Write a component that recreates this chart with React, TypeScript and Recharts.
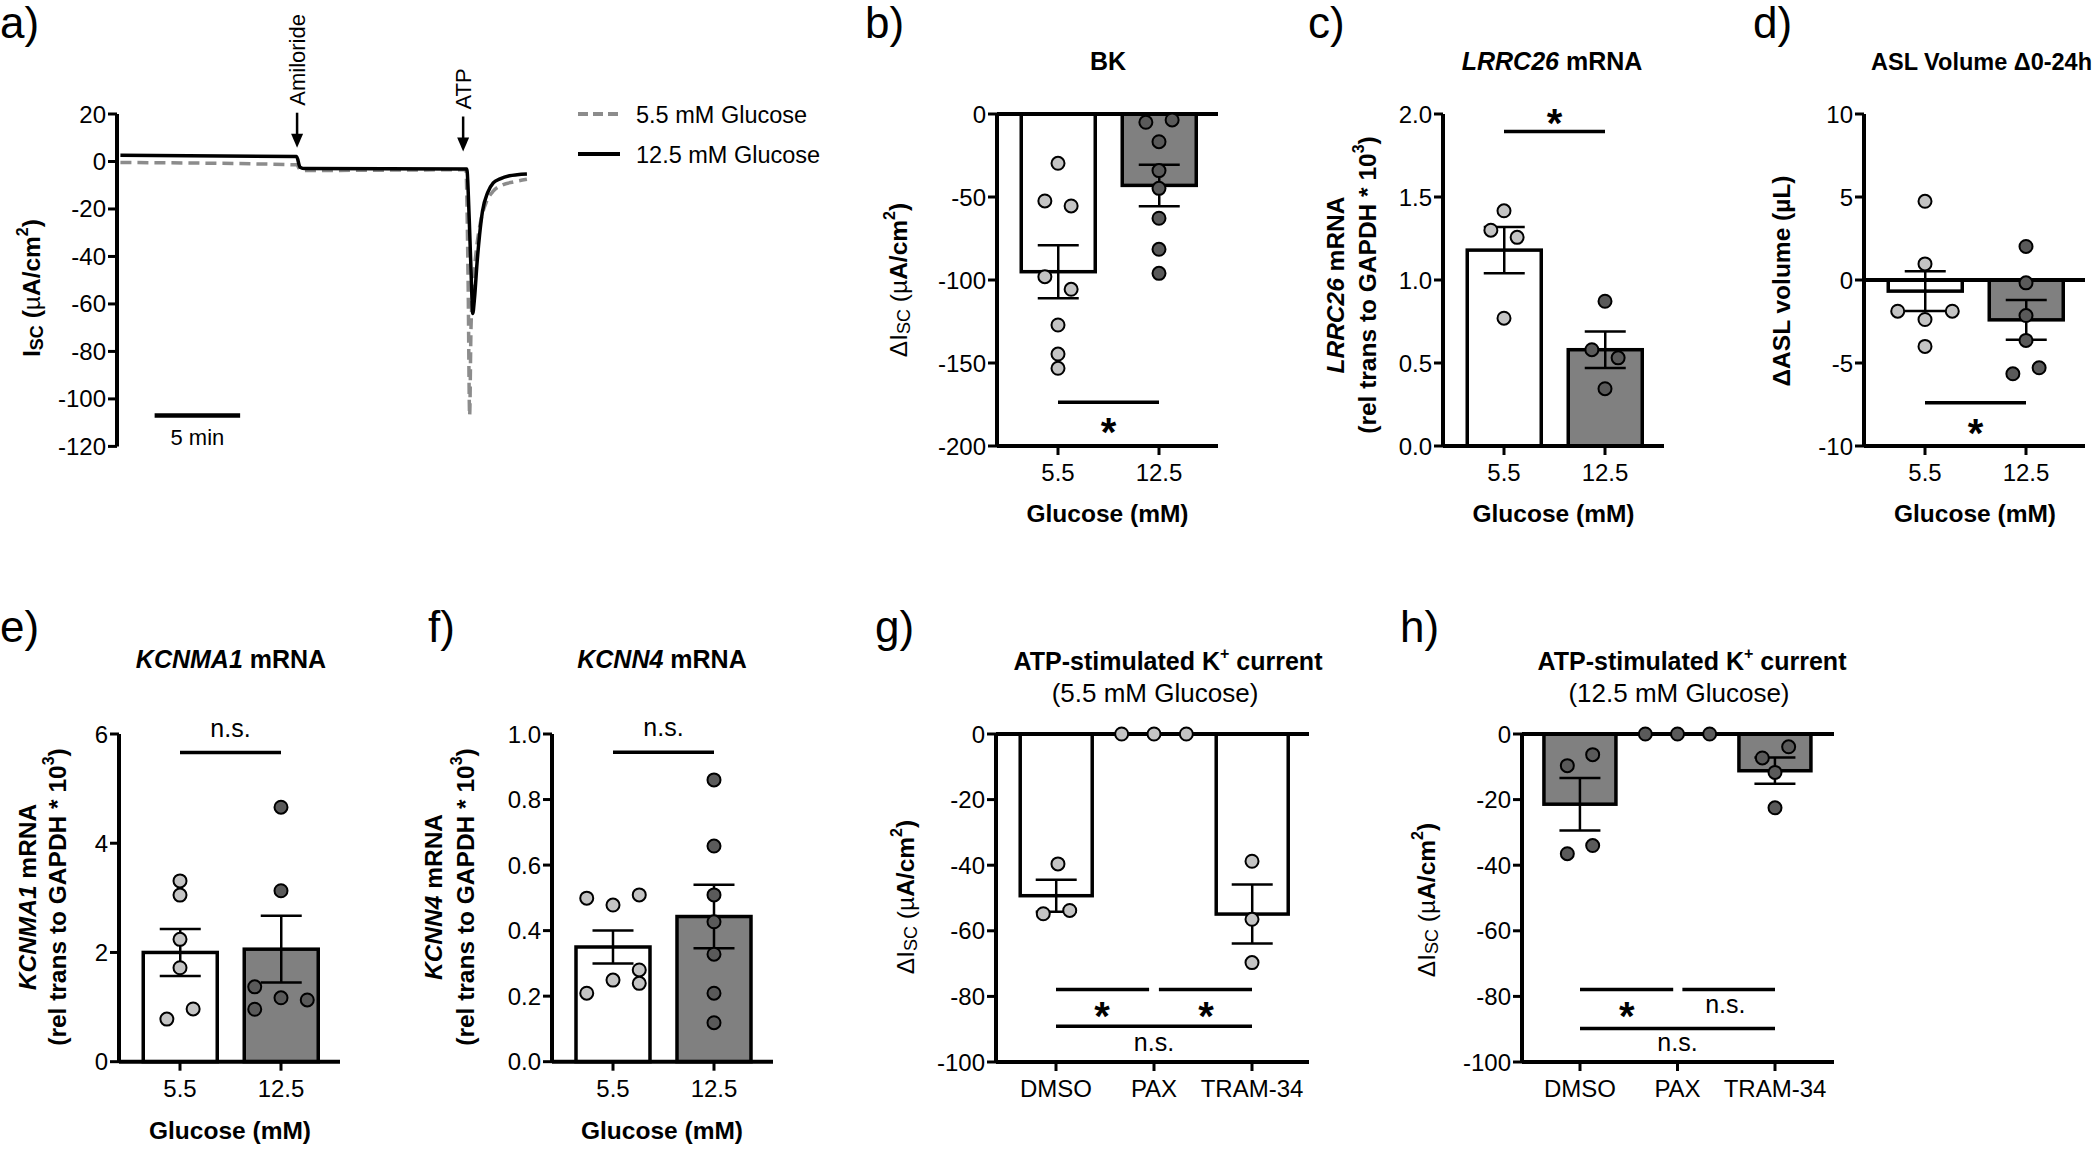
import React from "react";
import {
  ComposedChart,
  LineChart,
  Line,
  Bar,
  Cell,
  ErrorBar,
  Scatter,
  XAxis,
  YAxis,
  ReferenceLine,
  ReferenceDot,
} from "recharts";

const FONT = "'Liberation Sans', Arial, Helvetica, sans-serif";
const LIGHT = "#c4c4c4";
const DARK = "#5a5a5a";
const BAR_GRAY = "#808080";
const TRACE_GRAY = "#8c8c8c";

// ---------- a) short-circuit current trace ----------
const traceTime55 = [0, 10.3, 10.5, 10.8, 20.2, 20.33, 20.42, 20.5, 20.65, 20.85, 21.1, 21.4, 21.8, 22.3, 23.0, 23.77];
const traceIsc55 = [-0.4, -1.4, -3.3, -3.8, -3.5, -50, -107, -70, -50, -35, -24, -17, -12.5, -10, -8.6, -7.5];
const traceTime125 = [0, 10.3, 10.5, 10.8, 20.25, 20.4, 20.52, 20.6, 20.7, 20.85, 21.0, 21.17, 21.48, 21.8, 22.2, 22.75, 23.2, 23.77];
const traceIsc125 = [2.6, 2.1, -2.4, -3.0, -3.2, -25, -50, -64, -58, -43, -31, -21, -13, -9, -7.3, -6, -5.6, -5.3];
const traceTicks = [20, 0, -20, -40, -60, -80, -100, -120];
const additionNames = ["Amiloride", "ATP"];
const additionTimes = [10.33, 20.04];
const additionTips = [5.8, 4.2];
const legendNames = ["5.5 mM Glucose", "12.5 mM Glucose"];

// ---------- shared categories ----------
const glucose = ["5.5", "12.5"];
const drugs = ["DMSO", "PAX", "TRAM-34"];

// ---------- b) BK ----------
const bkMean = [-95, -43];
const bkSem = [16, 12.5];
const bkPts55 = [[0, -29.7], [-0.13, -52.4], [0.13, -55.4], [-0.13, -98], [0.13, -105.6], [0, -127.1], [0, -144.6], [0, -153.2]];
const bkPts125 = [[-0.13, -5.0], [0.13, -3.6], [0, -16.7], [0, -34.1], [0, -44.8], [0, -62.8], [0, -81.5], [0, -96]];
const bkTicks = [0, -50, -100, -150, -200];

// ---------- c) LRRC26 ----------
const lrrcMean = [1.18, 0.58];
const lrrcSem = [0.14, 0.11];
const lrrcPts55 = [[0, 1.417], [-0.13, 1.3], [0.13, 1.257], [0, 0.77]];
const lrrcPts125 = [[0, 0.872], [-0.13, 0.58], [0.13, 0.531], [0, 0.345]];
const lrrcTicks = [0, 0.5, 1, 1.5, 2];

// ---------- d) ASL volume ----------
const aslMean = [-0.67, -2.4];
const aslSem = [1.2, 1.2];
const aslPts55 = [[0, 4.74], [0, 0.97], [-0.27, -1.88], [0.27, -1.88], [0, -2.38], [0, -4.0]];
const aslPts125 = [[0, 2.02], [0, -0.17], [0, -2.14], [0, -3.64], [-0.13, -5.65], [0.13, -5.29]];
const aslTicks = [-10, -5, 0, 5, 10];

// ---------- e) KCNMA1 ----------
const kcnma1Mean = [2.0, 2.06];
const kcnma1Sem = [0.43, 0.61];
const kcnma1Pts55 = [[0, 3.31], [0, 3.05], [0, 2.24], [0, 1.72], [0.13, 0.965], [-0.13, 0.78]];
const kcnma1Pts125 = [[0, 4.66], [0, 3.13], [-0.26, 1.37], [-0.26, 0.96], [0, 1.17], [0.26, 1.13]];
const kcnma1Ticks = [0, 2, 4, 6];

// ---------- f) KCNN4 ----------
const kcnn4Mean = [0.35, 0.443];
const kcnn4Sem = [0.05, 0.097];
const kcnn4Pts55 = [[-0.26, 0.499], [0, 0.478], [0.26, 0.509], [0.26, 0.28], [0, 0.249], [0.26, 0.239], [-0.26, 0.209]];
const kcnn4Pts125 = [[0, 0.86], [0, 0.658], [0, 0.509], [0, 0.427], [0, 0.328], [0, 0.209], [0, 0.119]];
const kcnn4Ticks = [0, 0.2, 0.4, 0.6, 0.8, 1.0];

// ---------- g) ATP K+ current, 5.5 mM ----------
const atp55Mean = [-49.3, 0, -54.9];
const atp55Sem = [4.9, 0, 9];
const atp55Dmso = [[0.02, -39.6], [-0.13, -54.8], [0.14, -53.8]];
const atp55Pax = [[-0.33, 0], [0, 0], [0.33, 0]];
const atp55Tram = [[0, -38.8], [0, -56.5], [0, -69.7]];

// ---------- h) ATP K+ current, 12.5 mM ----------
const atp125Mean = [-21.4, 0, -11.2];
const atp125Sem = [8, 0, 4];
const atp125Dmso = [[-0.13, -9.65], [0.13, -6.3], [0.13, -34], [-0.13, -36.5]];
const atp125Pax = [[-0.33, 0], [0, 0], [0.33, 0]];
const atp125Tram = [[0.14, -3.9], [-0.13, -7.3], [0, -11.7], [0, -22.5]];
const atpTicks = [0, -20, -40, -60, -80, -100];

// significance bars: [from, to, y] and labels: [x, y, text]
const bkSigLines = [[1, 2, -173.7]];
const bkSigText = [[1.5, -186, "*"]];
const lrrcSigLines = [[1, 2, 1.894]];
const lrrcSigText = [[1.5, 2.0, "*"]];
const aslSigLines = [[1, 2, -7.39]];
const aslSigText = [[1.5, -8.66, "*"]];
const kcnma1SigLines = [[1, 2, 5.66]];
const kcnma1SigText = [[1.5, 6.07, "n.s."]];
const kcnn4SigLines = [[1, 2, 0.944]];
const kcnn4SigText = [[1.5, 1.013, "n.s."]];
const atp55SigLines = [[1, 1.95, -77.9], [2.05, 3, -77.9], [1, 3, -89.1]];
const atp55SigText = [[1.47, -83.2, "*"], [2.53, -83.2, "*"], [2, -94.8, "n.s."]];
const atp125SigLines = [[1, 1.956, -77.9], [2.05, 3, -77.9], [1, 3, -89.8]];
const atp125SigText = [[1.48, -83.2, "*"], [2.49, -83.2, "n.s."], [2, -94.8, "n.s."]];

const AXIS = { stroke: "#000", strokeWidth: 4 };
const TICK = { stroke: "#000", strokeWidth: 3 };
const TICK_TEXT = { fill: "#000", fontSize: 24, fontFamily: FONT };

const dotShape = (fill: string) => (props: any) => (
  <circle cx={props.cx} cy={props.cy} r={6.5} fill={fill} stroke="#000" strokeWidth={2} />
);

// fixed-width bar centred on the slot recharts gives us
const barShape = (w: number) => (props: any) => {
  const { x, y, width, height, fill } = props;
  if (!height) return <g />;
  const top = Math.min(y, y + height);
  return (
    <rect
      x={x + width / 2 - w / 2}
      y={top}
      width={w}
      height={Math.abs(height)}
      fill={fill}
      stroke="#000"
      strokeWidth={3.5}
    />
  );
};

const sigShape = (s: string) => (props: any) =>
  s === "*" ? (
    <text x={props.cx} y={props.cy + 23} textAnchor="middle" fontSize={40} fontWeight="bold" fontFamily={FONT}>
      *
    </text>
  ) : (
    <text x={props.cx} y={props.cy + 6.5} textAnchor="middle" fontSize={25} fontFamily={FONT}>
      {s}
    </text>
  );

interface BarPanelProps {
  plotLeft: number;
  plotTop: number;
  plotW: number;
  plotH: number;
  unit: number;
  padL: number;
  cats: string[];
  means: number[];
  sems: number[];
  fills: string[];
  points: number[][][];
  dotFills: string[];
  yDomain: [number, number];
  yTicks: number[];
  yDigits?: number;
  zeroLine?: boolean;
  barSize: number;
  sigLines: number[][];
  sigText: any[][];
}

function BarPanel(p: BarPanelProps) {
  const YW = 75;
  const MT = 40;
  const MR = 12;
  const XH = 45;
  const data = p.cats.map((c, i) => ({ x: i + 1, name: c, mean: p.means[i], sem: p.sems[i] }));
  const xDomain = [1 - p.padL / p.unit, 1 + (p.plotW - p.padL) / p.unit];
  return (
    <div style={{ position: "absolute", left: p.plotLeft - YW, top: p.plotTop - MT }}>
      <ComposedChart
        width={YW + p.plotW + MR}
        height={MT + p.plotH + XH}
        data={data}
        margin={{ top: MT, right: MR, bottom: 0, left: 0 }}
      >
        <XAxis
          type="number"
          dataKey="x"
          domain={xDomain}
          ticks={data.map((d) => d.x)}
          interval={0}
          tickFormatter={(v) => p.cats[Math.round(v) - 1]}
          height={XH}
          axisLine={AXIS}
          tickLine={TICK}
          tickSize={9}
          tickMargin={9}
          tick={TICK_TEXT}
        />
        <YAxis
          type="number"
          domain={p.yDomain}
          ticks={p.yTicks}
          interval={0}
          width={YW}
          axisLine={AXIS}
          tickLine={TICK}
          tickSize={9}
          tickMargin={2}
          tick={TICK_TEXT}
          tickFormatter={(v) => (p.yDigits ? Number(v).toFixed(p.yDigits) : String(v))}
        />
        <Bar dataKey="mean" shape={barShape(p.barSize)} isAnimationActive={false}>
          {data.map((d, i) => (
            <Cell key={d.name} fill={p.fills[i]} />
          ))}
          <ErrorBar dataKey="sem" width={20.5} stroke="#000" strokeWidth={2.5} direction="y" />
        </Bar>
        {p.zeroLine && <ReferenceLine y={0} stroke="#000" strokeWidth={4} />}
        {p.sigLines.map(([x1, x2, y], i) => (
          <ReferenceLine
            key={`l${i}`}
            segment={[{ x: x1, y }, { x: x2, y }]}
            stroke="#000"
            strokeWidth={3.5}
            ifOverflow="visible"
          />
        ))}
        {p.points.map((grp, g) => (
          <Scatter
            key={`s${g}`}
            data={grp.map(([dx, v]) => ({ x: g + 1 + dx, y: v }))}
            dataKey="y"
            shape={dotShape(p.dotFills[g])}
            isAnimationActive={false}
          />
        ))}
        {p.sigText.map(([x, y, s], i) => (
          <ReferenceDot key={`t${i}`} x={x} y={y} r={0} ifOverflow="visible" shape={sigShape(s)} />
        ))}
      </ComposedChart>
    </div>
  );
}

const arrowShape = (label: string) => (p: any) => (
  <g>
    <line x1={p.cx} y1={p.cy - 35} x2={p.cx} y2={p.cy - 10} stroke="#000" strokeWidth={2.5} />
    <polygon points={`${p.cx - 6},${p.cy - 14} ${p.cx + 6},${p.cy - 14} ${p.cx},${p.cy}`} fill="#000" />
    <text
      transform={`translate(${p.cx},${p.cy - 42}) rotate(-90)`}
      textAnchor="start"
      dominantBaseline="central"
      fontSize={22}
      fontFamily={FONT}
    >
      {label}
    </text>
  </g>
);

const labelShape = (label: string) => (p: any) => (
  <text x={p.cx} y={p.cy + 8} textAnchor="middle" fontSize={22} fontFamily={FONT}>
    {label}
  </text>
);

function TracePanel() {
  const YW = 70;
  const MT = 110;
  const plotLeft = 117;
  const plotTop = 114.3;
  const plotW = 419;
  const plotH = 332.4;
  const trace55 = traceTime55.map((t, i) => ({ t, v: traceIsc55[i] }));
  const trace125 = traceTime125.map((t, i) => ({ t, v: traceIsc125[i] }));
  return (
    <div style={{ position: "absolute", left: plotLeft - YW, top: plotTop - MT }}>
      <LineChart width={YW + plotW + 10} height={MT + plotH + 24} margin={{ top: MT, right: 10, bottom: 24, left: 0 }}>
        <XAxis type="number" dataKey="t" domain={[-0.2, 24.3]} hide />
        <YAxis
          type="number"
          domain={[-120, 20]}
          ticks={traceTicks}
          interval={0}
          width={YW}
          axisLine={AXIS}
          tickLine={TICK}
          tickSize={9}
          tickMargin={2}
          tick={TICK_TEXT}
        />
        <ReferenceLine
          segment={[{ x: 2, y: -107 }, { x: 7, y: -107 }]}
          stroke="#000"
          strokeWidth={4.5}
          ifOverflow="visible"
        />
        <ReferenceDot x={4.5} y={-116} r={0} ifOverflow="visible" shape={labelShape("5 min")} />
        <Line
          data={trace55}
          dataKey="v"
          type="monotone"
          stroke={TRACE_GRAY}
          strokeWidth={3.5}
          strokeDasharray="11 6"
          dot={false}
          isAnimationActive={false}
        />
        <Line
          data={trace125}
          dataKey="v"
          type="monotone"
          stroke="#000"
          strokeWidth={3.5}
          dot={false}
          isAnimationActive={false}
        />
        {additionNames.map((n, i) => (
          <ReferenceDot
            key={n}
            x={additionTimes[i]}
            y={additionTips[i]}
            r={0}
            ifOverflow="visible"
            shape={arrowShape(n)}
          />
        ))}
      </LineChart>
    </div>
  );
}

function RotLabel({ x, y, children }: { x: number; y: number; children: React.ReactNode }) {
  return (
    <text
      transform={`translate(${x},${y}) rotate(-90)`}
      textAnchor="middle"
      dominantBaseline="central"
      fontSize={24.5}
      fontWeight="bold"
      fontFamily={FONT}
    >
      {children}
    </text>
  );
}

const DeltaIsc = () => (
  <>
    <tspan fontWeight="normal">ΔI</tspan>
    <tspan fontWeight="normal" fontSize={18} dy={6}>
      SC
    </tspan>
    <tspan fontWeight="normal" dy={-6}>
      {" (µ"}
    </tspan>
    <tspan>A/cm</tspan>
    <tspan fontSize={16} dy={-9}>
      2
    </tspan>
    <tspan dy={9}>)</tspan>
  </>
);

const RelTrans = () => (
  <>
    (rel trans to GAPDH * 10<tspan fontSize={16} dy={-9}>3</tspan>
    <tspan dy={9}>)</tspan>
  </>
);

function Overlay() {
  const T = { fontFamily: FONT, fill: "#000" };
  return (
    <svg
      width={2100}
      height={1150}
      style={{ position: "absolute", left: 0, top: 0, pointerEvents: "none" }}
    >
      <g {...T} fontSize={44}>
        <text x={0} y={38}>a)</text>
        <text x={865} y={38}>b)</text>
        <text x={1308} y={38}>c)</text>
        <text x={1753} y={38}>d)</text>
        <text x={0} y={642}>e)</text>
        <text x={428} y={642}>f)</text>
        <text x={875} y={642}>g)</text>
        <text x={1400} y={642}>h)</text>
      </g>

      {/* titles */}
      <g {...T} fontSize={25} fontWeight="bold">
        <text x={1108} y={70} textAnchor="middle">BK</text>
        <text x={1552} y={70} textAnchor="middle">
          <tspan fontStyle="italic">LRRC26</tspan> mRNA
        </text>
        <text x={1871} y={70} fontSize={23.5}>ASL Volume Δ0-24h</text>
        <text x={231} y={668} textAnchor="middle">
          <tspan fontStyle="italic">KCNMA1</tspan> mRNA
        </text>
        <text x={662} y={668} textAnchor="middle">
          <tspan fontStyle="italic">KCNN4</tspan> mRNA
        </text>
        <text x={1168} y={670} textAnchor="middle">
          ATP-stimulated K<tspan fontSize={16} dy={-11}>+</tspan>
          <tspan dy={11}> current</tspan>
        </text>
        <text x={1692} y={670} textAnchor="middle">
          ATP-stimulated K<tspan fontSize={16} dy={-11}>+</tspan>
          <tspan dy={11}> current</tspan>
        </text>
      </g>
      <g {...T} fontSize={26}>
        <text x={1155} y={702} textAnchor="middle">(5.5 mM Glucose)</text>
        <text x={1679} y={702} textAnchor="middle">(12.5 mM Glucose)</text>
      </g>

      {/* x axis titles */}
      <g {...T} fontSize={24.5} fontWeight="bold" textAnchor="middle">
        <text x={1107.5} y={522}>Glucose (mM)</text>
        <text x={1553.5} y={522}>Glucose (mM)</text>
        <text x={1975} y={522}>Glucose (mM)</text>
        <text x={230} y={1139}>Glucose (mM)</text>
        <text x={662} y={1139}>Glucose (mM)</text>
      </g>

      {/* y axis titles */}
      <RotLabel x={31} y={288}>
        I<tspan fontSize={18} dy={6}>SC</tspan>
        <tspan dy={-6}> (</tspan>
        <tspan fontWeight="normal">µ</tspan>A/cm<tspan fontSize={16} dy={-9}>2</tspan>
        <tspan dy={9}>)</tspan>
      </RotLabel>
      <RotLabel x={898} y={280}>
        <DeltaIsc />
      </RotLabel>
      <RotLabel x={1335} y={285}>
        <tspan fontStyle="italic">LRRC26</tspan> mRNA
      </RotLabel>
      <RotLabel x={1367} y={285}>
        <RelTrans />
      </RotLabel>
      <RotLabel x={1781} y={281}>ΔASL volume (µL)</RotLabel>
      <RotLabel x={27} y={897}>
        <tspan fontStyle="italic">KCNMA1</tspan> mRNA
      </RotLabel>
      <RotLabel x={57} y={897}>
        <RelTrans />
      </RotLabel>
      <RotLabel x={433} y={897}>
        <tspan fontStyle="italic">KCNN4</tspan> mRNA
      </RotLabel>
      <RotLabel x={465} y={897}>
        <RelTrans />
      </RotLabel>
      <RotLabel x={905} y={897}>
        <DeltaIsc />
      </RotLabel>
      <RotLabel x={1426} y={900}>
        <DeltaIsc />
      </RotLabel>

      {/* legend of a) */}
      <line x1={578} y1={114} x2={620} y2={114} stroke={TRACE_GRAY} strokeWidth={4} strokeDasharray="10 5" />
      <line x1={578} y1={154} x2={620} y2={154} stroke="#000" strokeWidth={4} />
      <g {...T} fontSize={23.5}>
        <text x={636} y={122.5}>{legendNames[0]}</text>
        <text x={636} y={162.5}>{legendNames[1]}</text>
      </g>
    </svg>
  );
}

export default function App() {
  const two = { plotW: 221, unit: 101, padL: 61, barSize: 74 };
  return (
    <div style={{ position: "absolute", left: 0, top: 0, width: 2100, height: 1150, background: "#fff", overflow: "hidden" }}>
      <TracePanel />
      <BarPanel
        {...two}
        plotLeft={997}
        plotTop={114}
        plotH={332}
        cats={glucose}
        means={bkMean}
        sems={bkSem}
        fills={["#fff", BAR_GRAY]}
        points={[bkPts55, bkPts125]}
        dotFills={[LIGHT, DARK]}
        yDomain={[-200, 0]}
        yTicks={bkTicks}
        zeroLine
        sigLines={bkSigLines}
        sigText={bkSigText}
      />
      <BarPanel
        {...two}
        plotLeft={1443}
        plotTop={114}
        plotH={332}
        cats={glucose}
        means={lrrcMean}
        sems={lrrcSem}
        fills={["#fff", BAR_GRAY]}
        points={[lrrcPts55, lrrcPts125]}
        dotFills={[LIGHT, DARK]}
        yDomain={[0, 2]}
        yTicks={lrrcTicks}
        yDigits={1}
        sigLines={lrrcSigLines}
        sigText={lrrcSigText}
      />
      <BarPanel
        {...two}
        plotLeft={1864}
        plotTop={114}
        plotH={332}
        cats={glucose}
        means={aslMean}
        sems={aslSem}
        fills={["#fff", BAR_GRAY]}
        points={[aslPts55, aslPts125]}
        dotFills={[LIGHT, DARK]}
        yDomain={[-10, 10]}
        yTicks={aslTicks}
        zeroLine
        sigLines={aslSigLines}
        sigText={aslSigText}
      />
      <BarPanel
        {...two}
        plotLeft={119.3}
        plotTop={734}
        plotH={327.7}
        cats={glucose}
        means={kcnma1Mean}
        sems={kcnma1Sem}
        fills={["#fff", BAR_GRAY]}
        points={[kcnma1Pts55, kcnma1Pts125]}
        dotFills={[LIGHT, DARK]}
        yDomain={[0, 6]}
        yTicks={kcnma1Ticks}
        sigLines={kcnma1SigLines}
        sigText={kcnma1SigText}
      />
      <BarPanel
        {...two}
        plotLeft={551.7}
        plotTop={734}
        plotH={327.7}
        cats={glucose}
        means={kcnn4Mean}
        sems={kcnn4Sem}
        fills={["#fff", BAR_GRAY]}
        points={[kcnn4Pts55, kcnn4Pts125]}
        dotFills={[LIGHT, DARK]}
        yDomain={[0, 1]}
        yTicks={kcnn4Ticks}
        yDigits={1}
        sigLines={kcnn4SigLines}
        sigText={kcnn4SigText}
      />
      <BarPanel
        plotLeft={996}
        plotTop={733.5}
        plotW={313}
        plotH={328}
        unit={98}
        padL={60}
        barSize={72}
        cats={drugs}
        means={atp55Mean}
        sems={atp55Sem}
        fills={["#fff", "#fff", "#fff"]}
        points={[atp55Dmso, atp55Pax, atp55Tram]}
        dotFills={[LIGHT, LIGHT, LIGHT]}
        yDomain={[-100, 0]}
        yTicks={atpTicks}
        zeroLine
        sigLines={atp55SigLines}
        sigText={atp55SigText}
      />
      <BarPanel
        plotLeft={1522}
        plotTop={733.5}
        plotW={312}
        plotH={328}
        unit={97.5}
        padL={58}
        barSize={72}
        cats={drugs}
        means={atp125Mean}
        sems={atp125Sem}
        fills={[BAR_GRAY, BAR_GRAY, BAR_GRAY]}
        points={[atp125Dmso, atp125Pax, atp125Tram]}
        dotFills={[DARK, DARK, DARK]}
        yDomain={[-100, 0]}
        yTicks={atpTicks}
        zeroLine
        sigLines={atp125SigLines}
        sigText={atp125SigText}
      />
      <Overlay />
    </div>
  );
}
